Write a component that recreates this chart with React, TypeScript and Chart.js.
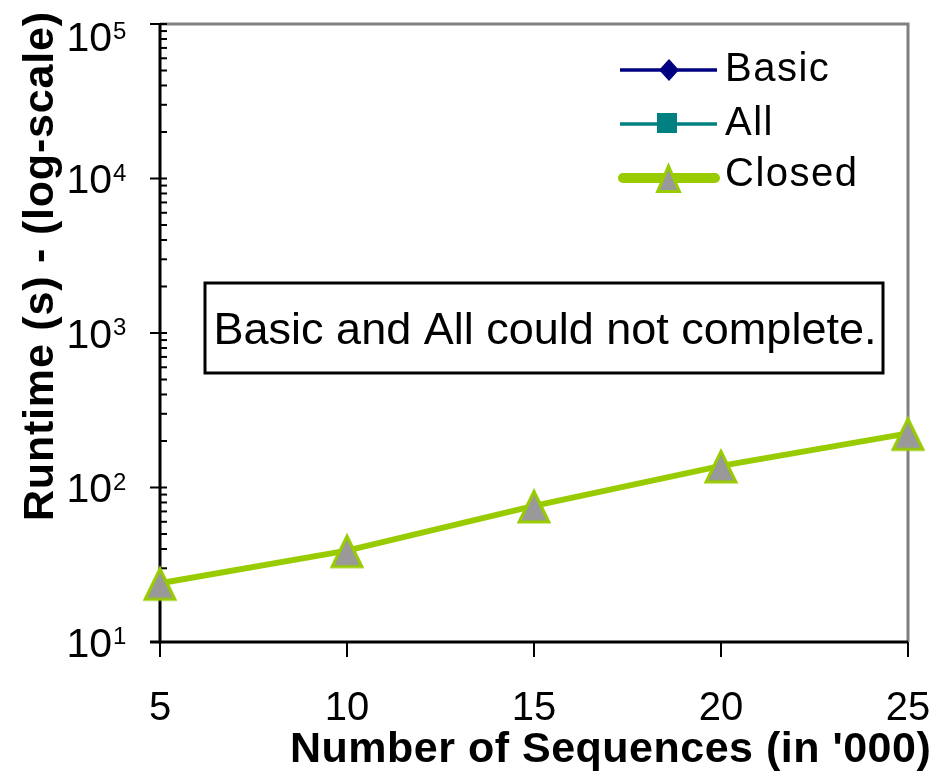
import React, { useEffect, useRef } from "react";
import { Chart, registerables } from "chart.js";

Chart.register(...registerables);

// ---- data ----
const xValues = [5, 10, 15, 20, 25];
const xTickLabels = ["5", "10", "15", "20", "25"];
const closedRuntime = [24, 39, 76, 138, 224];
const basicRuntime: number[] = []; // could not complete
const allRuntime: number[] = []; // could not complete
const yTickExponents = [1, 2, 3, 4, 5];
const seriesLabels = ["Basic", "All", "Closed"];
const seriesColors = ["#000080", "#008080", "#99CC00"];
const seriesMarkers = ["diamond", "square", "triangle"];
const noteText = "Basic and All could not complete.";
const xTitle = "Number of Sequences (in '000)";
const yTitle = "Runtime (s) - (log-scale)";

const FONT = "'Liberation Sans', Arial, Helvetica, sans-serif";
const MARKER_FILL = "#999999";

function triPath(ctx: CanvasRenderingContext2D, cx: number, cy: number, w: number, h: number) {
  // w, h = ink size including 3px stroke
  const b = (w - 5.2) / 2;
  const hh = h - 4.5;
  const top = cy - h / 2 + 3;
  ctx.beginPath();
  ctx.moveTo(cx, top);
  ctx.lineTo(cx + b, top + hh);
  ctx.lineTo(cx - b, top + hh);
  ctx.closePath();
}

function makeTriangleCanvas(): HTMLCanvasElement {
  const c = document.createElement("canvas");
  c.width = 38;
  c.height = 38;
  const g = c.getContext("2d")!;
  triPath(g, 19, 19, 35, 35);
  g.fillStyle = MARKER_FILL;
  g.fill();
  g.lineWidth = 3;
  g.lineJoin = "miter";
  g.strokeStyle = "#99CC00";
  g.stroke();
  return c;
}

function line(ctx: CanvasRenderingContext2D, x1: number, y1: number, x2: number, y2: number) {
  ctx.beginPath();
  ctx.moveTo(x1, y1);
  ctx.lineTo(x2, y2);
  ctx.stroke();
}

const framePlugin = {
  id: "excelFrame",
  beforeDatasetsDraw(chart: any) {
    const { ctx, chartArea: a, scales } = chart;
    const x = scales.x;
    const y = scales.y;
    ctx.save();
    // gray plot-area border (top & right)
    ctx.strokeStyle = "#808080";
    ctx.lineWidth = 3;
    ctx.beginPath();
    ctx.moveTo(a.left, a.top);
    ctx.lineTo(a.right, a.top);
    ctx.lineTo(a.right, a.bottom);
    ctx.stroke();
    // minor ticks (inside)
    ctx.strokeStyle = "#000";
    ctx.lineWidth = 2;
    for (let i = 0; i < yTickExponents.length - 1; i++) {
      const base = Math.pow(10, yTickExponents[i]);
      for (let m = 2; m <= 9; m++) {
        const py = y.getPixelForValue(base * m);
        line(ctx, a.left, py, a.left + 7, py);
      }
    }
    // major ticks (cross)
    for (const e of yTickExponents) {
      const py = y.getPixelForValue(Math.pow(10, e));
      line(ctx, a.left - 10, py, a.left + 7, py);
    }
    // x ticks (outside)
    for (const v of xValues) {
      const px = x.getPixelForValue(v);
      line(ctx, px, a.bottom, px, a.bottom + 15);
    }
    // axes
    ctx.lineWidth = 3;
    line(ctx, a.left, a.top, a.left, a.bottom + 1.5);
    line(ctx, a.left - 10, a.bottom, a.right, a.bottom);
    ctx.restore();
  },
  afterDraw(chart: any) {
    const { ctx, chartArea: a, scales } = chart;
    const x = scales.x;
    const y = scales.y;
    ctx.save();
    ctx.fillStyle = "#000";
    ctx.textBaseline = "alphabetic";

    // y tick labels 10^n
    for (const e of yTickExponents) {
      const py = y.getPixelForValue(Math.pow(10, e));
      const center = Math.max(py, a.top + 12.5);
      const digitTop = center - 14.5;
      ctx.font = `41px ${FONT}`;
      ctx.textAlign = "right";
      ctx.fillText("10", 112, center + 14.5);
      ctx.font = `24px ${FONT}`;
      ctx.textAlign = "left";
      ctx.fillText(String(e), 113, digitTop + 16.5);
    }

    // x tick labels
    ctx.font = `40px ${FONT}`;
    ctx.textAlign = "center";
    xValues.forEach((v, i) => {
      const px = x.getPixelForValue(v);
      ctx.fillText(xTickLabels[i], px, 720);
    });

    // x title
    ctx.font = `bold 43px ${FONT}`;
    ctx.textAlign = "left";
    (ctx as any).letterSpacing = "0.5px";
    ctx.fillText(xTitle, 290, 762);

    // y title
    ctx.save();
    ctx.translate(53, 521);
    ctx.rotate(-Math.PI / 2);
    ctx.font = `bold 43px ${FONT}`;
    (ctx as any).letterSpacing = "0.8px";
    ctx.textAlign = "left";
    ctx.fillText(yTitle, 0, 0);
    ctx.restore();
    (ctx as any).letterSpacing = "0px";

    // note box
    ctx.fillStyle = "#fff";
    ctx.fillRect(205, 283, 678, 90);
    ctx.strokeStyle = "#000";
    ctx.lineWidth = 3;
    ctx.strokeRect(205, 283, 678, 90);
    ctx.fillStyle = "#000";
    ctx.font = `45px ${FONT}`;
    ctx.textAlign = "center";
    ctx.fillText(noteText, 545, 344);

    // legend
    const rows = [70, 124, 178];
    const baselines = [81, 135, 186];
    chart.data.datasets.forEach((ds: any, i: number) => {
      const ly = rows[i];
      const color = ds.borderColor;
      ctx.strokeStyle = color;
      if (ds.markerKind === "triangle") {
        ctx.lineWidth = 10;
        ctx.lineCap = "round";
        line(ctx, 623, ly, 715, ly);
        ctx.lineCap = "butt";
        triPath(ctx, 668.5, ly, 27, 30);
        ctx.fillStyle = MARKER_FILL;
        ctx.fill();
        ctx.lineWidth = 3;
        ctx.strokeStyle = color;
        ctx.stroke();
      } else {
        ctx.lineWidth = 3.5;
        line(ctx, 620, ly, 717, ly);
        ctx.fillStyle = color;
        if (ds.markerKind === "diamond") {
          ctx.beginPath();
          ctx.moveTo(669, ly - 11);
          ctx.lineTo(679, ly);
          ctx.lineTo(669, ly + 11);
          ctx.lineTo(659, ly);
          ctx.closePath();
          ctx.fill();
        } else {
          ctx.fillRect(657, ly - 11, 20, 20);
        }
      }
      ctx.fillStyle = "#000";
      ctx.font = `40px ${FONT}`;
      ctx.textAlign = "left";
      (ctx as any).letterSpacing = "1.5px";
      ctx.fillText(ds.label, 725, baselines[i]);
      (ctx as any).letterSpacing = "0px";
    });
    ctx.restore();
  },
};

export default function App() {
  const ref = useRef<HTMLCanvasElement | null>(null);

  useEffect(() => {
    const canvas = ref.current;
    if (!canvas) return;
    const tri = makeTriangleCanvas();
    const toPoints = (vals: number[]) => vals.map((v, i) => ({ x: xValues[i], y: v }));
    const chart = new Chart(canvas, {
      type: "line",
      data: {
        datasets: [
          {
            label: seriesLabels[0],
            data: toPoints(basicRuntime),
            borderColor: seriesColors[0],
            backgroundColor: seriesColors[0],
            borderWidth: 3,
            pointStyle: "rectRot",
            pointRadius: 10,
            markerKind: seriesMarkers[0],
          } as any,
          {
            label: seriesLabels[1],
            data: toPoints(allRuntime),
            borderColor: seriesColors[1],
            backgroundColor: seriesColors[1],
            borderWidth: 3,
            pointStyle: "rect",
            pointRadius: 10,
            markerKind: seriesMarkers[1],
          } as any,
          {
            label: seriesLabels[2],
            data: toPoints(closedRuntime),
            borderColor: seriesColors[2],
            backgroundColor: MARKER_FILL,
            borderWidth: 6,
            pointStyle: tri,
            pointRadius: 18,
            clip: false,
            markerKind: seriesMarkers[2],
          } as any,
        ],
      },
      options: {
        animation: false,
        responsive: false,
        events: [],
        layout: { padding: { top: 17, right: 29, left: 0, bottom: 0 } },
        plugins: { legend: { display: false }, tooltip: { enabled: false } },
        scales: {
          x: {
            type: "linear",
            min: 5,
            max: 25,
            ticks: { display: false },
            grid: { display: false },
            border: { display: false },
            afterFit: (s: any) => {
              s.height = 134;
            },
          },
          y: {
            type: "logarithmic",
            min: 10,
            max: 100000,
            ticks: { display: false },
            grid: { display: false },
            border: { display: false },
            afterFit: (s: any) => {
              s.width = 160;
            },
          },
        },
      } as any,
      plugins: [framePlugin as any],
    });
    return () => chart.destroy();
  }, []);

  return (
    <div style={{ position: "fixed", left: 0, top: 0, width: 937, height: 776, background: "#fff" }}>
      <canvas ref={ref} width={937} height={776} style={{ display: "block", width: 937, height: 776 }} />
    </div>
  );
}
